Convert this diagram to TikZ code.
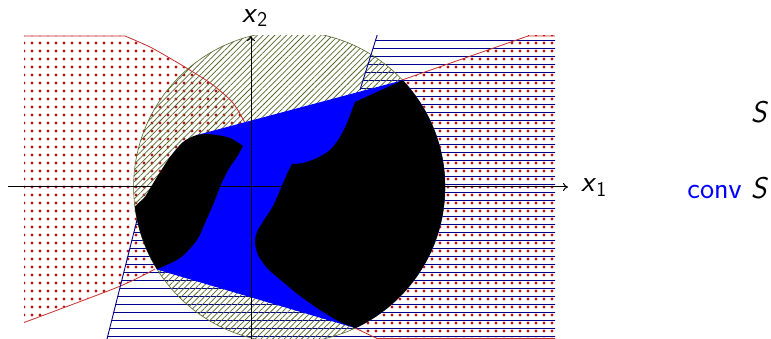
\documentclass[tikz,border=0pt]{standalone}
\usepackage{fontspec}
\usetikzlibrary{patterns.meta,arrows.meta}
\definecolor{dotred}{RGB}{180,20,20}
\definecolor{linered}{RGB}{200,45,45}
\definecolor{navyc}{RGB}{0,0,140}
\definecolor{hatchc}{RGB}{85,105,45}
\begin{document}
\begin{tikzpicture}[x=1pt,y=-1pt,
  lbl/.style={inner sep=0pt,font=\sffamily\fontsize{30}{36}\selectfont},
  axisline/.style={line width=1pt,-{To[length=5pt,width=8pt]}},
  reddots/.style={pattern={Dots[distance=8pt,radius=1.6pt]},pattern color=dotred},
  navylines/.style={pattern={Lines[angle=0,distance=8pt,line width=1pt,yshift=2pt]},pattern color=navyc},
  hatch/.style={pattern={Lines[angle=45,distance=4.1pt,line width=0.75pt]},pattern color=hatchc},
  redline/.style={draw=linered,line width=0.8pt},
  navyline/.style={draw=navyc,line width=0.9pt}]
\useasboundingbox (0,0) rectangle (771,339);
% key points
\coordinate (C) at (289.3,187);
\coordinate (hullTR) at (401,81);
\coordinate (hullTL) at (197,135);
\coordinate (hullBL) at (155,269);
\coordinate (hullB) at (355,328);
\begin{scope}
\clip (24,36) rectangle (555,339);
% red dotted regions
\fill[reddots] (24,36) -- (125,36) -- plot[smooth] coordinates {(125,36) (150,47) (173,60) (193,72) (213,85) (233,103) (245,123)} -- (hullBL) -- plot[smooth] coordinates {(155,269) (118,287) (24,322)} -- cycle;
\fill[reddots] (528,36) -- (402,80) -- (hullB) -- (377,338.5) -- (560,338.5) -- (560,30) -- (528,30) -- cycle;
% navy hatched region
\fill[navylines] (377,36) -- (360,90) -- (137,220) -- (107,339) -- (560,345) -- (560,30) -- (379,30) -- cycle;
% circle
\fill[hatch] (C) circle[radius=155.7pt];
\draw[hatchc,line width=0.6pt] (C) circle[radius=155.7pt];
% boundary lines
\draw[redline] (20,36) -- (125,36) -- plot[smooth] coordinates {(125,36) (150,47) (173,60) (193,72) (213,85) (233,103) (245,123)};
\draw[redline] plot[smooth] coordinates {(155,269) (118,287) (20,324)};
\draw[redline] (560,36) -- (528,36) -- (402,80);
\draw[redline] (hullB) -- (377,338.5) -- (560,338.5);
\draw[navyline] (380,26) -- (360,90);
\draw[navyline] (137,220) -- (106,343);
\end{scope}
% conv S and S, inside circle
\begin{scope}
\clip (C) circle[radius=155.7pt];
\fill[blue] (hullTL) -- (450,67.6) -- (520,60) -- (520,360) -- (420,347.2) -- (hullBL) -- (170,200) -- cycle;
% left lobe
\fill[black] plot[smooth] coordinates {(243,146) (230,138) (213,134.5) (197,135) (183,142) (170,157) (157,177) (145,197)} -- (110,230) -- (120,290) -- plot[smooth] coordinates {(140,276) (155,270) (180,258) (197,240) (205,223) (213,205) (218,192) (223,180) (230,167) (237,157) (243,146)} -- cycle;
% right lobe
\fill[black] (447,60) -- (355,102) -- plot[smooth] coordinates {(355,102) (352,110) (347,123) (340,137) (330,150) (317,158) (303,163) (292,164)} -- plot[smooth] coordinates {(292,164) (287,174) (281,188) (273,206) (264,220) (257,232) (255,242) (258,255) (268,269) (283,282) (300,296) (320,310) (340,322) (355,328) (380,341)} -- (520,350) -- (520,50) -- (447,50) -- cycle;
\end{scope}
% axes
\coordinate (xs) at (8,187);
\coordinate (xe) at (568,187);
\coordinate (ys) at (251,340);
\coordinate (ye) at (251,36);
\draw[axisline] (xs) -- (xe);
\draw[axisline] (ys) -- (ye);
% labels
\node[lbl,anchor=base west] (x1) at (581,192) {\textit{x}\raisebox{-5pt}{\fontsize{21}{24}\selectfont 1}};
\node[lbl,anchor=base west] (x2) at (242,23) {\textit{x}\raisebox{-4pt}{\fontsize{21}{24}\selectfont 2}};
\node[lbl,anchor=base east] (S) at (768.5,123) {\textit{S}};
\node[lbl,anchor=base east] (convS) at (768.5,199) {\textcolor{blue}{conv}~\textit{S}};
\end{tikzpicture}
\end{document}
